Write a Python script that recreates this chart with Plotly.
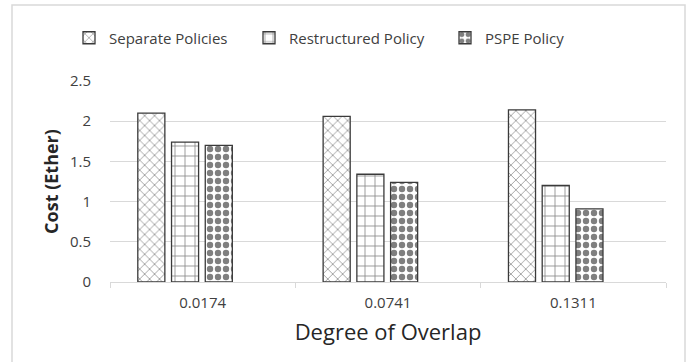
import plotly.graph_objects as go

categories = ["0.0174", "0.0741", "0.1311"]
series_names = ["Separate Policies", "Restructured Policy", "PSPE Policy"]
separate = [2.10, 2.06, 2.14]
restructured = [1.74, 1.34, 1.20]
pspe = [1.70, 1.24, 0.91]
y_ticks = [0, 0.5, 1, 1.5, 2, 2.5]
y_tick_labels = ["0", "0.5", "1", "1.5", "2", "2.5"]

FONT = "Open Sans"
values = [separate, restructured, pspe]
patterns = [
    dict(shape="x", fgcolor="#444444", bgcolor="white", size=7, solidity=0.25),
    dict(shape="+", fgcolor="#111111", bgcolor="white", size=10, solidity=0.16),
    dict(shape=".", fgcolor="#000000", bgcolor="white", size=8, solidity=0.5),
]
offsets = [-0.35, -0.168, 0.014]
bar_w = 0.146
legend_ids = ["legend", "legend2", "legend3"]
legend_left_px = [69, 249, 445]

fig = go.Figure()
for name, vals, pat, off, lg in zip(series_names, values, patterns, offsets, legend_ids):
    fig.add_trace(go.Bar(
        x=categories, y=vals, name=name,
        offset=off, width=bar_w, legend=lg,
        marker=dict(color="white", pattern=pat,
                    line=dict(color="#3a3a3a", width=1.3)),
    ))

plot_l, plot_r, plot_t, plot_b = 110, 666, 81, 282
pw, ph = plot_r - plot_l, plot_b - plot_t

legend_common = dict(orientation="h", yanchor="middle", y=(plot_b - 38) / ph,
                     xanchor="left", font=dict(size=15, color="#404040"),
                     itemwidth=30, bgcolor="rgba(0,0,0,0)")
layout_legends = {}
for lg, lx in zip(legend_ids, legend_left_px):
    layout_legends[lg] = dict(legend_common, x=(lx - plot_l) / pw)

fig.update_layout(
    width=689, height=362,
    margin=dict(l=plot_l, r=689 - plot_r, t=plot_t, b=362 - plot_b, autoexpand=False),
    paper_bgcolor="white", plot_bgcolor="white",
    font=dict(family=FONT, color="#404040", size=13),
    showlegend=True,
    xaxis=dict(type="category", tickson="boundaries", ticks="outside", ticklen=5,
               tickcolor="#d9d9d9", showline=True, linecolor="#d9d9d9", linewidth=1,
               showgrid=False, tickfont=dict(size=15, color="#404040"),
               ticklabelstandoff=7,
               title=dict(text="Degree of Overlap", font=dict(size=22, color="#262626"), standoff=13)),
    yaxis=dict(range=[0, 2.5], tickvals=y_ticks, ticktext=y_tick_labels,
               showgrid=True, gridcolor="#d9d9d9", gridwidth=1, zeroline=False,
               showline=False, ticks="", ticklabelstandoff=18,
               tickfont=dict(size=15, color="#404040"),
               title=dict(text="<b>Cost (Ether)</b>", font=dict(size=18, color="#262626"), standoff=6)),
    **layout_legends,
)

fig.add_shape(type="rect", xref="paper", yref="paper",
              x0=(12 - plot_l) / pw, x1=(685 - plot_l) / pw,
              y0=(plot_b - 380) / ph, y1=(plot_b - 5) / ph,
              line=dict(color="#d9d9d9", width=1.5), fillcolor="rgba(0,0,0,0)", layer="below")

fig.write_html("out.html", config={"displayModeBar": False},
               post_script="document.body.style.margin='0';document.body.style.overflow='hidden';")
